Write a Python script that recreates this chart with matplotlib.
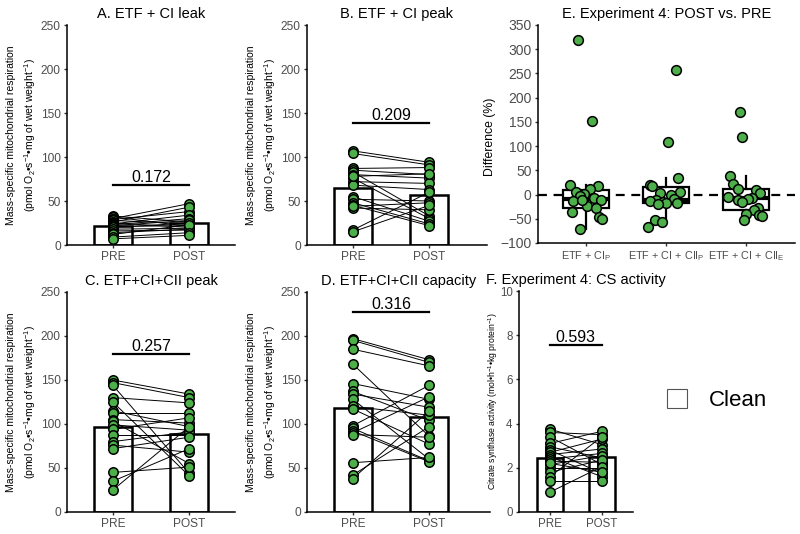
import numpy as np
import matplotlib
matplotlib.use('Agg')
import matplotlib.pyplot as plt
from matplotlib.patches import Patch

plt.rcParams['font.family'] = ['Liberation Sans', 'DejaVu Sans']
plt.rcParams['mathtext.fontset'] = 'custom'
plt.rcParams['mathtext.rm'] = 'Liberation Sans'
plt.rcParams['mathtext.it'] = 'Liberation Sans:italic'

times = ['PRE', 'POST']

# A. ETF + CI leak
leak_pre = [33, 32, 30, 29, 28, 26, 25, 24, 23, 22, 21, 20, 18, 16, 14, 12, 9, 7]
leak_post = [26, 21, 47, 38, 24, 43, 20, 34, 30, 28, 22, 25, 19, 17, 18, 23, 14, 11]
# B. ETF + CI peak
peak_pre = [107, 104, 87, 85, 83, 80, 76, 72, 68, 55, 52, 48, 45, 42, 44, 17, 15, 78]
peak_post = [94, 91, 88, 80, 33, 76, 30, 70, 63, 27, 50, 24, 22, 40, 48, 60, 45, 81]
# C. ETF+CI+CII peak
c_pre = [150, 147, 144, 130, 125, 115, 112, 105, 103, 99, 94, 88, 80, 76, 72, 45, 35, 25]
c_post = [134, 130, 44, 124, 41, 97, 112, 101, 55, 93, 107, 88, 91, 68, 85, 51, 72, 97]
# D. ETF+CI+CII capacity
d_pre = [197, 195, 185, 168, 146, 137, 134, 128, 120, 117, 98, 95, 92, 90, 88, 56, 42, 38]
d_post = [173, 170, 166, 86, 128, 104, 119, 60, 110, 77, 144, 58, 57, 131, 85, 62, 97, 115]
# F. CS activity
cs_pre = [3.75, 3.6, 3.4, 3.1, 2.95, 2.8, 2.7, 2.6, 2.5, 2.4, 2.3, 2.15, 2.0, 1.8, 1.6, 1.4, 0.9, 2.2]
cs_post = [3.05, 3.5, 2.15, 3.65, 2.45, 1.75, 3.3, 2.85, 1.6, 2.65, 2.25, 2.55, 2.0, 2.35, 3.4, 1.4, 2.05, 1.8]

# E. percent difference POST vs PRE
diff_labels = [r'ETF + CI$_\mathrm{P}$', r'ETF + CI + CII$_\mathrm{P}$', r'ETF + CI + CII$_\mathrm{E}$']
diff_1 = [320, 152, 20, 17, 12, 5, 2, -3, -8, -12, -13, -24, -28, -35, -47, -50, -72, -12]
diff_2 = [258, 108, 35, 20, 18, 5, 3, -1, -10, -12, -13, -15, -17, -17, -19, -53, -56, -68]
diff_3 = [170, 118, 38, 22, 11, 10, 3, -6, -7, -9, -12, -15, -28, -32, -40, -43, -45, -52]
jit_1 = [-0.1, 0.07, -0.2, 0.15, 0.05, -0.13, -0.02, -0.08, 0.1, 0.19, -0.16, 0.01, 0.12, -0.17, 0.16, 0.2, -0.08, -0.05]
jit_2 = [0.12, 0.03, 0.15, -0.2, -0.17, 0.18, -0.08, 0.06, 0.1, -0.12, -0.2, -0.04, 0.14, 0.0, -0.1, -0.14, -0.05, -0.22]
jit_3 = [-0.08, -0.05, -0.2, -0.16, -0.1, 0.12, 0.18, -0.22, 0.08, 0.02, -0.1, -0.05, 0.15, 0.1, 0.0, 0.16, 0.2, -0.03]

green = '#4DAF4A'
tick_col = '#4D4D4D'
ylab_resp = ('Mass-specific mitochondrial respiration\n'
             r'(pmol O$_2$•s$^{-1}$•mg of wet weight$^{-1}$)')

fig = plt.figure(figsize=(8, 5.34), dpi=100)


def px(x, y, w, h):
    return [x / 800, 1 - (y + h) / 534, w / 800, h / 534]


def style(ax, fs=8.6):
    for s in ['top', 'right']:
        ax.spines[s].set_visible(False)
    for s in ['left', 'bottom']:
        ax.spines[s].set_linewidth(1.1)
    ax.tick_params(length=2.5, width=1, pad=2, colors='#333333', labelcolor=tick_col, labelsize=fs)


def paired(rect, pre, post, ymax, step, pval, pline, title, ylab, ylx, ppu, ylfs=7.5, tfs=10.5):
    ax = fig.add_axes(px(*rect))
    style(ax)
    x = np.arange(1, 3)
    ax.bar(x, [np.mean(pre), np.mean(post)], width=0.5, color='white',
           edgecolor='black', linewidth=1.8, zorder=1)
    for a, b in zip(pre, post):
        ax.plot(x, [a, b], color='black', lw=0.7, zorder=2)
    ax.plot(np.ones(len(pre)), pre, 'o', ms=6.8, mfc=green, mec='black', mew=1.1, zorder=3)
    ax.plot(np.full(len(post), 2), post, 'o', ms=6.8, mfc=green, mec='black', mew=1.1, zorder=3)
    ax.plot([1, 2], [pline, pline], color='black', lw=1.6)
    ax.text(1.5, pline, pval, ha='center', va='bottom', fontsize=11.5)
    ax.set_xlim(0.4, 0.4 + rect[2] / ppu)
    ax.set_ylim(0, ymax)
    ax.set_yticks(np.arange(0, ymax + step / 2, step))
    ax.set_xticks(x)
    ax.set_xticklabels(times)
    ax.set_title(title, fontsize=tfs, pad=5)
    ax.set_ylabel(ylab, fontsize=ylfs, linespacing=1.6, va='center')
    ax.yaxis.set_label_coords(ylx / 800, 1 - (rect[1] + rect[3] / 2) / 534,
                              transform=fig.transFigure)
    return ax


paired((67, 25, 168, 220), leak_pre, leak_post, 250, 50, '0.172', 68,
       'A. ETF + CI leak', ylab_resp, 22, 76.4)
paired((307, 25, 180, 220), peak_pre, peak_post, 250, 50, '0.209', 138.5,
       'B. ETF + CI peak', ylab_resp, 262, 76.4)
paired((67, 292, 168, 220), c_pre, c_post, 250, 50, '0.257', 179.5,
       'C. ETF+CI+CII peak', ylab_resp, 22, 76.4)
paired((307, 292, 183, 220), d_pre, d_post, 250, 50, '0.316', 227,
       'D. ETF+CI+CII capacity', ylab_resp, 262, 76.4)
axf = paired((519, 291, 114, 221), cs_pre, cs_post, 10, 2, '0.593', 7.55,
             'F. Experiment 4: CS activity',
             r'Citrate synthase activity (mol•h$^{-1}$•kg protein$^{-1}$)', 493, 51.7, ylfs=6.2)
axf.tick_params(labelsize=8.3)

# E. box plot of differences
axe = fig.add_axes(px(538, 25, 257, 218))
style(axe, fs=10)
groups = [diff_1, diff_2, diff_3]
jits = [jit_1, jit_2, jit_3]
axe.axhline(0, color='black', lw=1.6, ls=(0, (4, 3)), zorder=1)
axe.boxplot(groups, positions=[1, 2, 3], widths=0.58, showfliers=False, showcaps=False,
            patch_artist=True,
            boxprops=dict(facecolor='white', edgecolor='black', linewidth=1.6),
            whiskerprops=dict(color='black', linewidth=1.6),
            medianprops=dict(color='black', linewidth=3), zorder=2)
for i, (g, j) in enumerate(zip(groups, jits)):
    axe.plot(np.array(j) + i + 1, g, 'o', ms=7, mfc=green, mec='black', mew=1.1, zorder=3)
axe.set_xlim(0.4, 0.4 + 257 / 80)
axe.set_ylim(-100, 350)
axe.set_yticks(np.arange(-100, 351, 50))
axe.set_xticks([1, 2, 3])
axe.set_xticklabels(diff_labels, fontsize=7.8)
axe.set_title('E. Experiment 4: POST vs. PRE', fontsize=10.5, pad=5)
axe.set_ylabel('Difference (%)', fontsize=8.8, va='center')
axe.yaxis.set_label_coords(490 / 800, 1 - 137 / 534, transform=fig.transFigure)

fig.legend(handles=[Patch(facecolor='white', edgecolor='#555555', linewidth=0.8)],
           labels=['Clean'], loc='center', bbox_to_anchor=(717 / 800, 1 - 400 / 534),
           frameon=False, fontsize=16, handlelength=0.9, handleheight=0.9, handletextpad=1.0)

fig.savefig('out.png', dpi=100)
